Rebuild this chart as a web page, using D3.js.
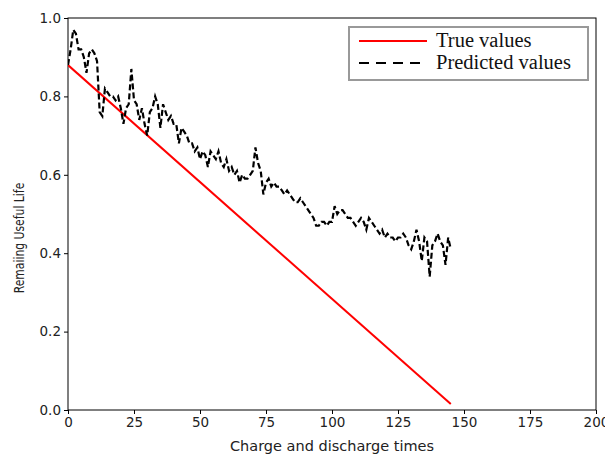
<!DOCTYPE html>
<html>
<head>
<meta charset="utf-8">
<script src="https://cdn.jsdelivr.net/npm/d3@7"></script>
<style>
  html, body { margin: 0; padding: 0; background: #fff; }
  svg { display: block; }
</style>
</head>
<body>
<svg id="chart" width="605" height="454"></svg>
<script>
// Remaining useful life: true linear trend vs. model prediction per cycle
const trueCycles = [0, 145];
const trueValues = [0.88, 0.015];

const predictedValues = [
  0.88, 0.92, 0.97, 0.96, 0.92, 0.92, 0.90, 0.86, 0.91, 0.92,
  0.91, 0.89, 0.76, 0.75, 0.82, 0.81, 0.80, 0.80, 0.79, 0.80,
  0.77, 0.73, 0.77, 0.78, 0.87, 0.79, 0.78, 0.74, 0.77, 0.73,
  0.70, 0.76, 0.77, 0.80, 0.78, 0.72, 0.78, 0.76, 0.74, 0.75,
  0.73, 0.73, 0.68, 0.72, 0.71, 0.70, 0.68, 0.68, 0.66, 0.67,
  0.64, 0.66, 0.65, 0.62, 0.66, 0.65, 0.64, 0.66, 0.63, 0.62,
  0.64, 0.61, 0.62, 0.60, 0.61, 0.58, 0.60, 0.59, 0.59, 0.60,
  0.61, 0.67, 0.63, 0.61, 0.55, 0.58, 0.59, 0.57, 0.58, 0.57,
  0.57, 0.56, 0.55, 0.56, 0.55, 0.54, 0.53, 0.53, 0.54, 0.53,
  0.52, 0.51, 0.50, 0.49, 0.47, 0.47, 0.48, 0.48, 0.47, 0.48,
  0.48, 0.52, 0.50, 0.51, 0.51, 0.50, 0.49, 0.49, 0.48, 0.47,
  0.48, 0.49, 0.48, 0.46, 0.49, 0.48, 0.47, 0.46, 0.45, 0.46,
  0.44, 0.45, 0.44, 0.44, 0.43, 0.44, 0.44, 0.45, 0.44, 0.42,
  0.41, 0.43, 0.46, 0.43, 0.38, 0.44, 0.43, 0.34, 0.42, 0.43,
  0.45, 0.43, 0.42, 0.37, 0.44, 0.41
];

const xTicks = [0, 25, 50, 75, 100, 125, 150, 175, 200];
const yTicks = [0.0, 0.2, 0.4, 0.6, 0.8, 1.0];

const legendLabels = ["True values", "Predicted values"];

const svg = d3.select("#chart");
const plot = { left: 68, right: 596, top: 18, bottom: 410 };

const x = d3.scaleLinear().domain([0, 200]).range([plot.left, plot.right]);
const y = d3.scaleLinear().domain([0, 1]).range([plot.bottom, plot.top]);

const tickFont = "'DejaVu Sans', sans-serif";

// axes
const xAxis = d3.axisBottom(x).tickValues(xTicks).tickFormat(d3.format("d")).tickSizeOuter(0).tickSize(4).tickPadding(3);
const yAxis = d3.axisLeft(y).tickValues(yTicks).tickFormat(d3.format(".1f")).tickSizeOuter(0).tickSize(4).tickPadding(3);

const gx = svg.append("g").attr("transform", `translate(0,${plot.bottom})`).call(xAxis);
const gy = svg.append("g").attr("transform", `translate(${plot.left},0)`).call(yAxis);
[gx, gy].forEach(g => {
  g.select(".domain").remove();
  g.selectAll("line").attr("stroke", "#000").attr("stroke-width", 1);
  g.selectAll("text").attr("font-family", tickFont).attr("font-size", 13.5).attr("fill", "#222");
});

// frame
svg.append("rect")
  .attr("x", plot.left).attr("y", plot.top)
  .attr("width", plot.right - plot.left).attr("height", plot.bottom - plot.top)
  .attr("fill", "none").attr("stroke", "#000").attr("stroke-width", 1);

// series
const line = d3.line().x(d => x(d[0])).y(d => y(d[1]));

svg.append("clipPath").attr("id", "plotClip")
  .append("rect").attr("x", plot.left).attr("y", plot.top)
  .attr("width", plot.right - plot.left).attr("height", plot.bottom - plot.top);

svg.append("path")
  .datum(trueCycles.map((c, i) => [c, trueValues[i]]))
  .attr("d", line)
  .attr("fill", "none").attr("stroke", "#ff0000").attr("stroke-width", 2)
  .attr("clip-path", "url(#plotClip)");

svg.append("path")
  .datum(predictedValues.map((v, i) => [i, v]))
  .attr("d", line)
  .attr("fill", "none").attr("stroke", "#000").attr("stroke-width", 2.2)
  .attr("stroke-dasharray", "6,3")
  .attr("clip-path", "url(#plotClip)");

// axis titles
svg.append("text")
  .attr("x", (plot.left + plot.right) / 2).attr("y", 451)
  .attr("text-anchor", "middle")
  .attr("font-family", tickFont).attr("font-size", 14.5).attr("fill", "#222")
  .text("Charge and discharge times");

svg.append("text")
  .attr("transform", `translate(24,238) rotate(-90) scale(1,1.3)`)
  .attr("text-anchor", "middle")
  .attr("font-family", tickFont).attr("font-size", 10.8).attr("fill", "#222")
  .text("Remaiing Useful Life");

// legend
const legend = svg.append("g");
legend.append("rect")
  .attr("x", 349).attr("y", 27).attr("width", 239).attr("height", 53)
  .attr("fill", "#fff").attr("stroke", "#999").attr("stroke-width", 2);

const legendStyles = [
  { color: "#ff0000", dash: null },
  { color: "#000", dash: "10,7" }
];
legendLabels.forEach((label, i) => {
  const cy = 41 + i * 22;
  legend.append("line")
    .attr("x1", 359).attr("x2", 427).attr("y1", cy).attr("y2", cy)
    .attr("stroke", legendStyles[i].color).attr("stroke-width", 2)
    .attr("stroke-dasharray", legendStyles[i].dash);
  legend.append("text")
    .attr("x", 436).attr("y", cy + 6)
    .attr("font-family", "'Liberation Serif', 'Times New Roman', serif")
    .attr("font-size", 20.5).attr("fill", "#111")
    .text(label);
});
</script>
</body>
</html>
